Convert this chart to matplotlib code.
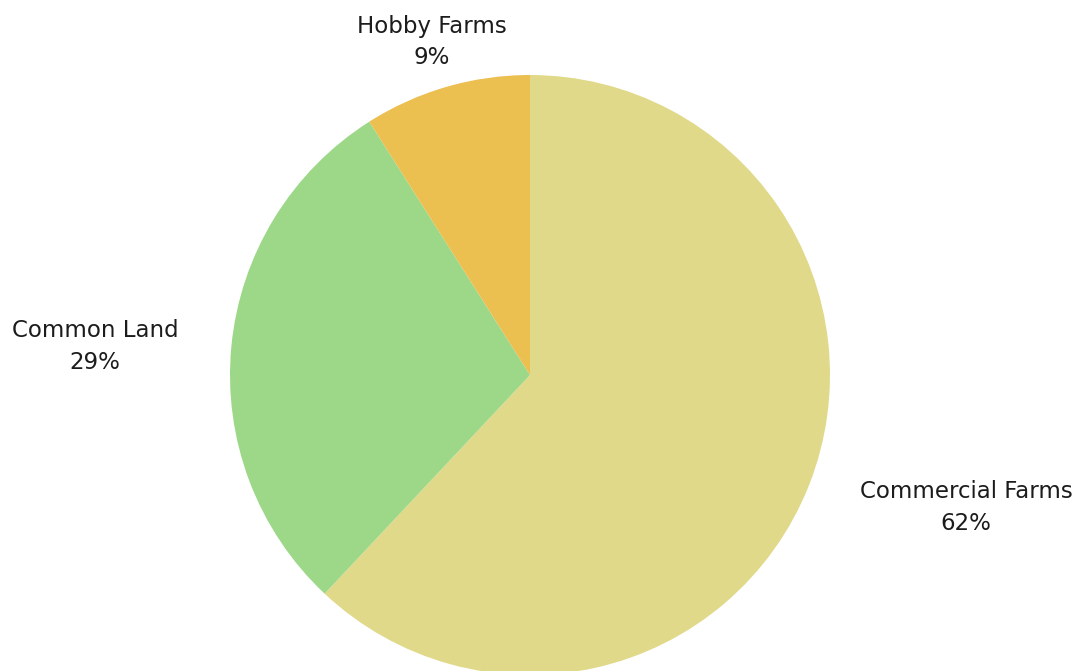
import matplotlib
matplotlib.use("Agg")
import matplotlib.pyplot as plt

categories = ["Commercial Farms", "Common Land", "Hobby Farms"]
shares = [62, 29, 9]
colors = ["#E1D98A", "#9CD888", "#EBBF50"]
# label anchor points in pie-radius units (center of the text block)
label_pos = [(1.453, -0.442), (-1.45, 0.094), (-0.327, 1.110)]

plt.rcParams["font.family"] = ["DejaVu Sans"]

fig = plt.figure(figsize=(10.84, 6.71), dpi=100)
# pie box: 600x600 px, centre at (530, 375) from top-left
ax = fig.add_axes([230 / 1084, (671 - 675) / 671, 600 / 1084, 600 / 671])
ax.pie(shares, colors=colors, startangle=90, counterclock=False,
       radius=1.0, wedgeprops=dict(linewidth=0))
ax.set_xlim(-1, 1)
ax.set_ylim(-1, 1)
ax.set_aspect("equal")
ax.axis("off")

for name, val, (x, y) in zip(categories, shares, label_pos):
    ax.text(x, y, f"{name}\n{val}%", ha="center", va="center",
            fontsize=16.5, color="#1c1c1c", linespacing=1.5, clip_on=False)

fig.savefig("out.png", dpi=100)
